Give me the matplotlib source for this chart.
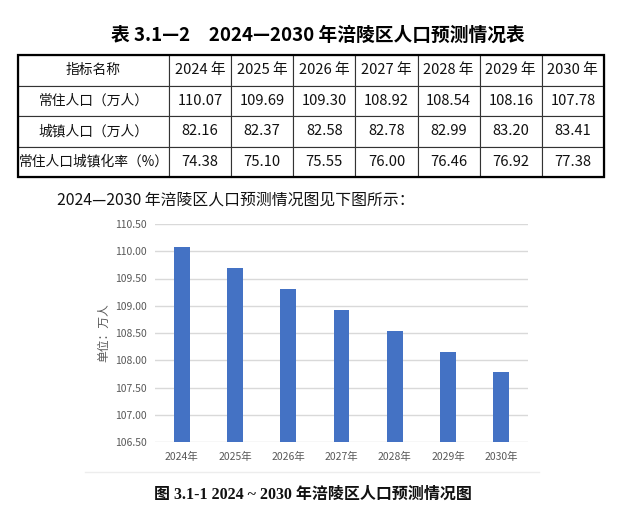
import matplotlib
matplotlib.use("Agg")
import matplotlib.pyplot as plt
from matplotlib.patches import Rectangle
from matplotlib.lines import Line2D

plt.rcParams['font.family'] = ['Noto Sans CJK SC', 'DejaVu Sans']

# data
years = ["2024", "2025", "2026", "2027", "2028", "2029", "2030"]
resident_pop = [110.07, 109.69, 109.30, 108.92, 108.54, 108.16, 107.78]
urban_pop = [82.16, 82.37, 82.58, 82.78, 82.99, 83.20, 83.41]
urban_rate = [74.38, 75.10, 75.55, 76.00, 76.46, 76.92, 77.38]
row_names = ["常住人口（万人）", "城镇人口（万人）", "常住人口城镇化率（%）"]
y_ticks = [106.50, 107.00, 107.50, 108.00, 108.50, 109.00, 109.50, 110.00, 110.50]

W, H = 636, 513
fig = plt.figure(figsize=(W / 100, H / 100), dpi=100)


def fx(px):
    return px / W


def fy(py):
    return 1 - py / H


# title
fig.text(0.5, fy(35), "表 3.1—2　2024—2030 年涪陵区人口预测情况表",
         ha='center', va='center', fontsize=13.5, fontweight='bold')

# table
tax = fig.add_axes([fx(18), fy(177), fx(586), 122 / H])
tax.set_axis_off()
header = ["指标名称"] + [f"{y} 年" for y in years]
rows = [header]
for name, vals in zip(row_names, [resident_pop, urban_pop, urban_rate]):
    rows.append([name] + [f"{v:.2f}" for v in vals])
first_w = 151 / 586
col_widths = [first_w] + [(1 - first_w) / 7] * 7
tbl = tax.table(cellText=rows, colWidths=col_widths, cellLoc='center',
                bbox=[0, 0, 1, 1])
tbl.auto_set_font_size(False)
for (r, c), cell in tbl.get_celld().items():
    cell.set_linewidth(0.8)
    cell.set_edgecolor('#333333')
    txt = cell.get_text()
    txt.set_fontsize(9.9 if c == 0 else 10.6)
    txt.set_color('#111111')
tax.add_patch(Rectangle((0, 0), 1, 1, transform=tax.transAxes, fill=False,
                        lw=1.6, edgecolor='black', clip_on=False))

# intro line
fig.text(fx(57), fy(200), "2024—2030 年涪陵区人口预测情况图见下图所示：",
         ha='left', va='center', fontsize=11.4, color='#111111')

# bar chart
ax = fig.add_axes([fx(155), fy(442), fx(528 - 155), (442 - 224) / H])
x_labels = [f"{y}年" for y in years]
ax.bar(x_labels, resident_pop, width=0.3, color='#4472C4', zorder=3)
ax.set_ylim(y_ticks[0], y_ticks[-1])
ax.set_yticks(y_ticks)
ax.set_yticklabels([f"{t:.2f}" for t in y_ticks])
ax.set_xlim(-0.5, len(years) - 0.5)
ax.grid(axis='y', color='#D9D9D9', lw=1, zorder=0)
for s in ax.spines.values():
    s.set_visible(False)
ax.tick_params(length=0, labelsize=7.5, colors='#595959')
ax.tick_params(axis='y', pad=6)
ax.tick_params(axis='x', pad=7)
ax.set_ylabel("单位：万人", fontsize=8.5, color='#595959', labelpad=3)

# faint chart frame bottom
fig.add_artist(Line2D([fx(85), fx(539)], [fy(472), fy(472)], color='#EDEDED', lw=1))

# caption
fig.text(fx(313), fy(495), "图 3.1-1 2024 ~ 2030 年涪陵区人口预测情况图",
         ha='center', va='center', fontsize=11.5, fontweight='bold',
         family=['Liberation Serif', 'Noto Sans CJK SC'], color='#111111')

fig.savefig("out.png", dpi=100)
